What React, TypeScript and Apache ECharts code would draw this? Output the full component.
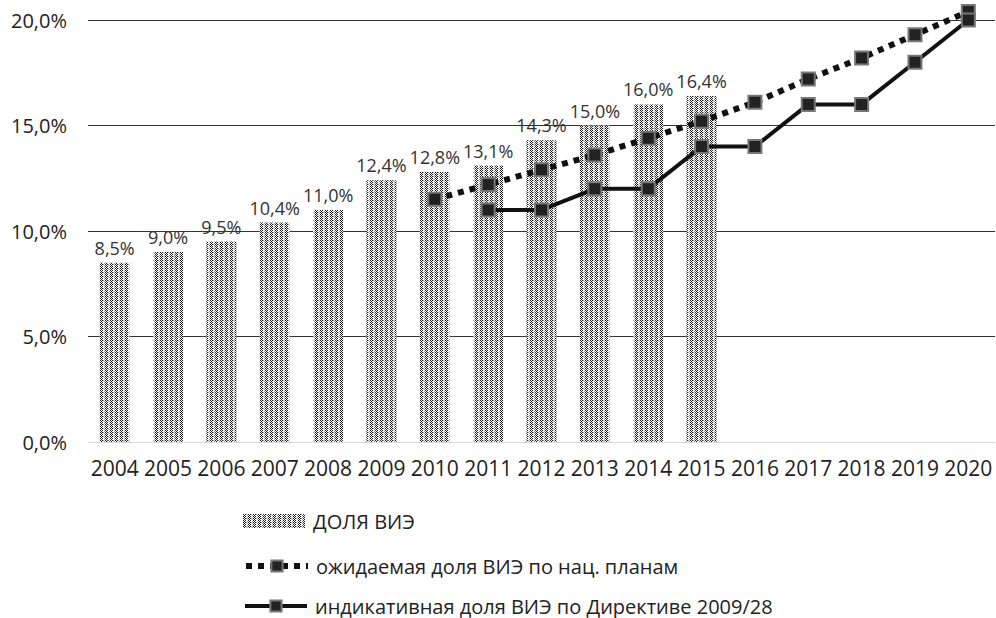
import React, { useEffect, useRef } from "react";
import * as echarts from "echarts";

const years = ["2004","2005","2006","2007","2008","2009","2010","2011","2012","2013","2014","2015","2016","2017","2018","2019","2020"];
const shareRES = [8.5, 9.0, 9.5, 10.4, 11.0, 12.4, 12.8, 13.1, 14.3, 15.0, 16.0, 16.4, null, null, null, null, null];
const expectedShare = [null, null, null, null, null, null, 11.5, 12.2, 12.9, 13.6, 14.4, 15.2, 16.1, 17.2, 18.2, 19.3, 20.4];
const indicativeShare = [null, null, null, null, null, null, null, 11.0, 11.0, 12.0, 12.0, 14.0, 14.0, 16.0, 16.0, 18.0, 20.0];
const seriesNames = ["ДОЛЯ ВИЭ", "ожидаемая доля ВИЭ по нац. планам", "индикативная доля ВИЭ по Директиве 2009/28"];

function makePattern(): HTMLCanvasElement {
  const c = document.createElement("canvas");
  c.width = 5;
  c.height = 4;
  const ctx = c.getContext("2d")!;
  ctx.fillStyle = "#ffffff";
  ctx.fillRect(0, 0, 5, 4);
  ctx.fillStyle = "#1a1a1a";
  [[0,0],[0,2],[1,1],[1,3],[2,0],[2,2]].forEach(([x, y]) => ctx.fillRect(x, y, 1, 1));
  ctx.fillStyle = "#9a9a9a";
  [[4,1],[4,3],[3,0]].forEach(([x, y]) => ctx.fillRect(x, y, 1, 1));
  return c;
}

const fmt = (v: number) => v.toFixed(1).replace(".", ",") + "%";

export default function App() {
  const ref = useRef<HTMLDivElement>(null);
  useEffect(() => {
    if (!ref.current) return;
    const chart = echarts.init(ref.current, null, { renderer: "svg" });
    const pattern = makePattern();
    const font = "'Open Sans', 'Noto Sans', sans-serif";
    const legendBase = {
      orient: "horizontal",
      left: 238,
      itemWidth: 62,
      itemHeight: 14,
      itemGap: 8,
      textStyle: { fontSize: 20, color: "#222", fontFamily: font, padding: [0, 0, 0, 3] },
    };
    chart.setOption({
      animation: false,
      backgroundColor: "#ffffff",
      textStyle: { fontFamily: font },
      grid: { left: 88, right: 1, top: 20, bottom: 176, containLabel: false },
      legend: [
        { ...legendBase, top: 506, data: [{ name: seriesNames[0], icon: "rect" }] },
        { ...legendBase, top: 551, lineStyle: { width: 6 }, data: [{ name: seriesNames[1] }] },
        { ...legendBase, top: 591, lineStyle: { width: 4 }, data: [{ name: seriesNames[2] }] },
      ],
      xAxis: {
        type: "category",
        data: years,
        axisLine: { lineStyle: { color: "#d9d9d9", width: 1 } },
        axisTick: { show: false },
        axisLabel: { fontSize: 21, color: "#222", margin: 15, fontFamily: font, interval: 0 },
      },
      yAxis: {
        type: "value",
        min: 0,
        max: 20,
        interval: 5,
        axisLine: { show: false },
        axisTick: { show: false },
        axisLabel: { fontSize: 20, color: "#222", margin: 21, formatter: (v: number) => fmt(v) },
        splitLine: { lineStyle: { color: ["#d9d9d9", "#333", "#333", "#333", "#333"], width: 1 } },
      },
      series: [
        {
          name: seriesNames[0],
          type: "bar",
          data: shareRES,
          barWidth: 30,
          itemStyle: { color: { image: pattern, repeat: "repeat" } as any },
          label: {
            show: true,
            position: "top",
            distance: 6,
            fontSize: 18,
            color: "#333",
            formatter: (p: any) => fmt(p.value),
          },
        },
        {
          name: seriesNames[1],
          type: "line",
          data: expectedShare,
          clip: false,
          symbol: "rect",
          symbolSize: 13,
          lineStyle: { color: "#111", width: 6, type: [6, 6], cap: "butt" },
          itemStyle: { color: "#222", borderColor: "#777", borderWidth: 2 },
        },
        {
          name: seriesNames[2],
          type: "line",
          data: indicativeShare,
          clip: false,
          symbol: "rect",
          symbolSize: 13,
          lineStyle: { color: "#111", width: 4 },
          itemStyle: { color: "#222", borderColor: "#777", borderWidth: 2 },
        },
      ],
    });
    return () => chart.dispose();
  }, []);
  return <div ref={ref} style={{ width: 996, height: 618, position: "absolute", left: 0, top: 0 }} />;
}
